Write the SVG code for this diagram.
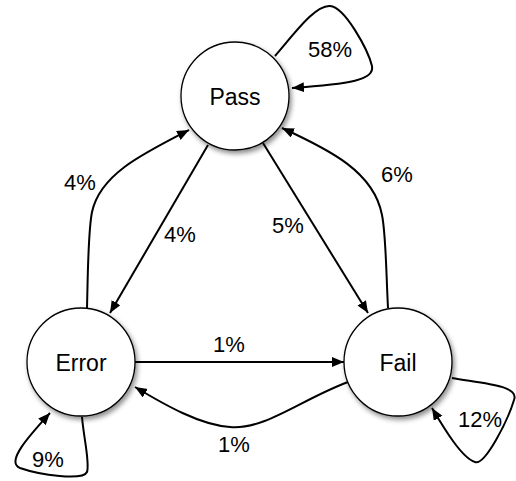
<svg xmlns="http://www.w3.org/2000/svg" width="516" height="481" viewBox="0 0 516 481">
<defs>
<filter id="sh" x="-30%" y="-30%" width="160%" height="160%">
<feDropShadow dx="2" dy="3" stdDeviation="2.5" flood-color="#000" flood-opacity="0.45"/>
</filter>
<marker id="arr" markerUnits="userSpaceOnUse" markerWidth="14" markerHeight="12" refX="12" refY="5" orient="auto">
<path d="M0,0 L12,5 L0,10 Z" fill="#000"/>
</marker>
</defs>
<style>
.node circle{fill:#fff;stroke:#000;stroke-width:1.3;filter:url(#sh)}
.node text{font-family:"Liberation Sans",Arial,sans-serif;font-size:23px;text-anchor:middle;fill:#000}
.edges path{fill:none;stroke:#000;stroke-width:2;marker-end:url(#arr)}
.lbl{font-family:"Liberation Sans",Arial,sans-serif;font-size:22px;text-anchor:middle;fill:#000}
</style>
<rect width="516" height="481" fill="#fff"/>
<g class="edges" id="edges">
<path d="M275,56 C295,33 315,5 330,6 C345,7 368,50 372,66 C375,80 350,84 292,88"/>
<path d="M82,417 C84,440 90,463 87,472 C83,481 40,475 20,468 C5,462 30,435 50,413"/>
<path d="M452,378 C480,383 520,385 514,400 C508,420 485,466 475,462 C462,458 445,430 432,408"/>
<path d="M208,145 L110,313"/>
<path d="M87,308 C88,270 88,232 92,212 C100,175 140,155 189,130"/>
<path d="M263,143 L368,313"/>
<path d="M388,308 C386,270 386,235 382,215 C374,172 330,150 282,128"/>
<path d="M135,362 L344,362"/>
<path d="M348,382 C300,400 265,430 230,427 C200,425 165,405 135,387"/>
</g>
<g id="pass" class="node"><circle cx="235" cy="96" r="54"/><text x="235" y="105">Pass</text></g>
<g id="error" class="node"><circle cx="81" cy="362" r="54"/><text x="81" y="371">Error</text></g>
<g id="fail" class="node"><circle cx="398" cy="362" r="54"/><text x="398" y="371">Fail</text></g>
<g id="labels">
<text class="lbl" x="330" y="57">58%</text>
<text class="lbl" x="48" y="467">9%</text>
<text class="lbl" x="480" y="427">12%</text>
<text class="lbl" x="80" y="190">4%</text>
<text class="lbl" x="180" y="242">4%</text>
<text class="lbl" x="288" y="233">5%</text>
<text class="lbl" x="397" y="182">6%</text>
<text class="lbl" x="229" y="352">1%</text>
<text class="lbl" x="234" y="452">1%</text>
</g>
</svg>
